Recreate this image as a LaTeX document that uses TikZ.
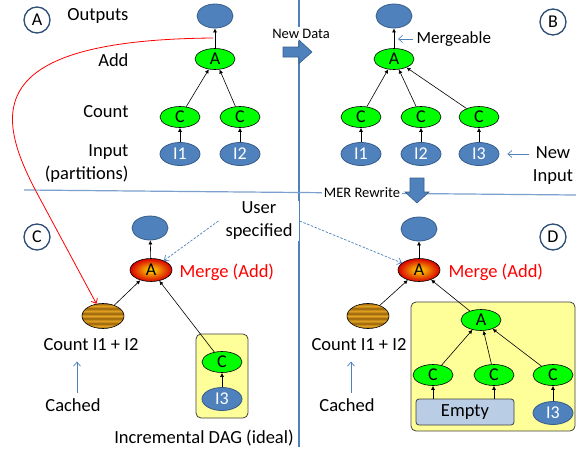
\documentclass[tikz,border=0pt]{standalone}
\usepackage{fontspec}
\setmainfont{Carlito}
\usepackage{xcolor}
\usepackage{tikz}
\usetikzlibrary{positioning,arrows.meta,shapes.geometric}
\definecolor{officeblue}{HTML}{4F81BD}
\definecolor{officeline}{HTML}{385D8A}
\definecolor{labelring}{HTML}{2C4D75}
\definecolor{nodegreen}{HTML}{00FF00}
\definecolor{boxyellow}{HTML}{FFFF99}
\definecolor{emptyblue}{HTML}{B9CDE5}
\definecolor{stripelight}{HTML}{E6A623}
\definecolor{stripedark}{HTML}{95600A}
\pgfdeclareverticalshading{stripes}{100bp}{color(0bp)=(stripedark); color(25bp)=(stripedark); color(30bp)=(stripelight); color(35bp)=(stripedark); color(40bp)=(stripelight); color(45bp)=(stripedark); color(50bp)=(stripelight); color(55bp)=(stripedark); color(60bp)=(stripelight); color(65bp)=(stripedark); color(70bp)=(stripelight); color(75bp)=(stripedark); color(100bp)=(stripedark)}

\begin{document}
\begin{tikzpicture}[x=1pt,y=-1pt,
  txt/.style={font=\fontsize{18.5}{23}\selectfont},
  small/.style={font=\fontsize{14.5}{17}\selectfont},
  outnode/.style={ellipse,draw=officeline,fill=officeblue,line width=0.8pt,minimum width=36pt,minimum height=24pt,inner sep=0pt},
  innode/.style={ellipse,draw=officeline,fill=officeblue,line width=0.8pt,minimum width=40pt,minimum height=23pt,inner sep=0pt,text=white,font=\fontsize{18}{20}\selectfont},
  opnode/.style={ellipse,draw=black,fill=nodegreen,line width=0.6pt,minimum width=40pt,minimum height=21pt,inner sep=0pt,font=\fontsize{18}{20}\selectfont},
  mergenode/.style={ellipse,draw=black,line width=0.6pt,inner color=yellow!75!orange,outer color=red!85!black,minimum width=42pt,minimum height=23pt,inner sep=0pt,font=\fontsize{18}{20}\selectfont},
  cachenode/.style={ellipse,draw=black,line width=0.6pt,shade,shading=stripes,minimum width=42pt,minimum height=25pt,inner sep=0pt},
  tag/.style={circle,draw=labelring,line width=1.3pt,fill=white,minimum size=26pt,inner sep=0pt,font=\fontsize{18}{20}\selectfont},
  dag/.style={rectangle,rounded corners=5pt,draw=black!75,fill=boxyellow,line width=0.8pt},
  emptybox/.style={rectangle,rounded corners=3pt,draw=black!75,fill=emptyblue,line width=0.8pt,minimum width=98pt,minimum height=26pt,txt},
  edge/.style={-{Latex[length=4pt,width=4pt]},line width=0.6pt},
  note/.style={-{Straight Barb[length=4pt,width=7pt]},draw=officeblue,line width=0.7pt},
  usernote/.style={note,dash pattern=on 2.5pt off 1.5pt},
  feedback/.style={-{Straight Barb[length=4pt,width=7pt]},draw=red,line width=0.8pt},
  bigarrow/.style={fill=officeblue,draw=officeline,line width=0.6pt},
  banner/.style={small,fill=white,inner sep=2pt}
]
\useasboundingbox (0,0) rectangle (576,453);

% separators and transitions
\draw[officeblue,line width=1.5pt] (299,0) -- (299,447);
\draw[officeblue!75,line width=1.2pt] (24,190) -- (576,195);
\node[banner] (newdata) at (301,34) {New Data};
\node[banner] (mer) at (362,193) {MER Rewrite};
\filldraw[bigarrow] (283,47) -- (299,47) -- (299,40) -- (312,52) -- (299,63.5) -- (299,57) -- (283,57) -- cycle;
\filldraw[bigarrow] (410,178) -- (424,178) -- (424,192) -- (429,192) -- (417,203) -- (405,192) -- (410,192) -- cycle;

% A: original DAG
\node[tag] (tagA) at (37,20) {A};
\node[txt,anchor=east] (lblout) at (132,16) {Outputs};
\node[txt,anchor=east] (lbladd) at (132,60) {Add};
\node[txt,anchor=east] (lblcount) at (132,112) {Count};
\node[txt,anchor=east,align=right] (lblinput) at (132,164) {Input\\(partitions)};
\node[outnode] (aOut) at (215,16) {};
\node[opnode] (aAdd) at (215,59) {A};
\node[opnode] (aC1) at (180,117) {C};
\node[opnode] (aC2) at (240,117) {C};
\node[innode] (aI1) at (180,154) {I1};
\node[innode] (aI2) at (240,154) {I2};
\draw[edge] (aAdd) -- (aOut);
\draw[edge] (aC1) -- (aAdd);
\draw[edge] (aC2) -- (aAdd);
\draw[edge] (aI1) -- (aC1);
\draw[edge] (aI2) -- (aC2);

% B: new input
\node[tag] (tagB) at (553,22) {B};
\node[outnode] (bOut) at (394,16) {};
\node[opnode] (bAdd) at (394,59) {A};
\node[opnode] (bC1) at (361,117) {C};
\node[opnode] (bC2) at (421,117) {C};
\node[opnode] (bC3) at (479,117) {C};
\node[innode] (bI1) at (361,154) {I1};
\node[innode] (bI2) at (421,154) {I2};
\node[innode] (bI3) at (479,154) {I3};
\draw[edge] (bAdd) -- (bOut);
\draw[edge] (bC1) -- (bAdd);
\draw[edge] (bC2) -- (bAdd);
\draw[edge] (bC3) -- (bAdd);
\draw[edge] (bI1) -- (bC1);
\draw[edge] (bI2) -- (bC2);
\draw[edge] (bI3) -- (bC3);
\node[font=\fontsize{17}{20}\selectfont,anchor=west] (lblmerge) at (413,39) {Mergeable};
\coordinate (mergetip) at (398,39);
\draw[note] (lblmerge) -- (mergetip);
\node[txt,align=center] (lblnew) at (553,166) {New\\Input};
\draw[note,shorten >=8pt] (lblnew.west |- bI3) -- (bI3);

% C: incremental DAG
\node[tag] (tagC) at (37,237) {C};
\node[outnode] (cOut) at (150,228) {};
\node[mergenode] (cMerge) at (151,270) {A};
\node[txt,text=red,anchor=west] (lblmergeC) at (176,272) {Merge (Add)};
\node[cachenode] (cCache) at (103,316) {};
\node[txt] (lblcountC) at (91,345) {Count I1 + I2};
\node[txt] (lblcachedC) at (73,405) {Cached};
\draw[note,shorten <=2pt,shorten >=7pt] ([xshift=4pt]lblcachedC.north) -- ([xshift=4pt]lblcachedC.north |- lblcountC.south);
\node[dag,minimum width=52pt,minimum height=84pt] (cBox) at (222,376) {};
\node[opnode] (cC3) at (222,362) {C};
\node[innode] (cI3) at (222,399) {I3};
\draw[edge] (cI3) -- (cC3);
\draw[edge] (cC3) -- (cMerge);
\draw[edge] (cCache) -- (cMerge);
\draw[edge] (cMerge) -- (cOut);
\node[txt] (lblincr) at (204,438) {Incremental DAG (ideal)};

% user specified merge
\node[txt,fill=white,inner xsep=7pt,inner ysep=1pt,align=center] (lbluser) at (259,221) {User\\specified};

% D: rewritten DAG
\node[tag] (tagD) at (553,237) {D};
\node[outnode] (dOut) at (419,229) {};
\node[mergenode] (dMerge) at (419,270) {A};
\node[txt,text=red,anchor=west] (lblmergeD) at (445,272) {Merge (Add)};
\node[cachenode] (dCache) at (368,316) {};
\node[txt] (lblcountD) at (359,345) {Count I1 + I2};
\node[txt] (lblcachedD) at (347,405) {Cached};
\draw[note,shorten <=2pt,shorten >=7pt] ([xshift=4pt]lblcachedD.north) -- ([xshift=4pt]lblcachedD.north |- lblcountD.south);
\node[dag,minimum width=164pt,minimum height=129pt] (dBox) at (493,366.5) {};
\node[opnode] (dAdd) at (481,320) {A};
\node[opnode] (dC1) at (433,375) {C};
\node[opnode] (dC2) at (494,375) {C};
\node[opnode] (dC3) at (553,375) {C};
\node[emptybox] (dEmpty) at (465,412) {Empty};
\node[innode] (dI3) at (553,413) {I3};
\draw[edge] (dEmpty.north -| dC1) -- (dC1);
\draw[edge] (dEmpty.north -| dC2) -- (dC2);
\draw[edge] (dI3) -- (dC3);
\draw[edge] (dC1) -- (dAdd);
\draw[edge] (dC2) -- (dAdd);
\draw[edge] (dC3) -- (dAdd);
\draw[edge] (dAdd) -- (dMerge);
\draw[edge] (dCache) -- (dMerge);
\draw[edge] (dMerge) -- (dOut);

\draw[usernote] (lbluser.west) -- (cMerge);
\draw[usernote] (lbluser.east) -- (dMerge);

% cached result feeds back
\coordinate (feedstart) at (213,38);
\draw[feedback] (feedstart) .. controls (-20,40) and (-5,115) .. (38,195) -- (cCache);
\end{tikzpicture}
\end{document}
